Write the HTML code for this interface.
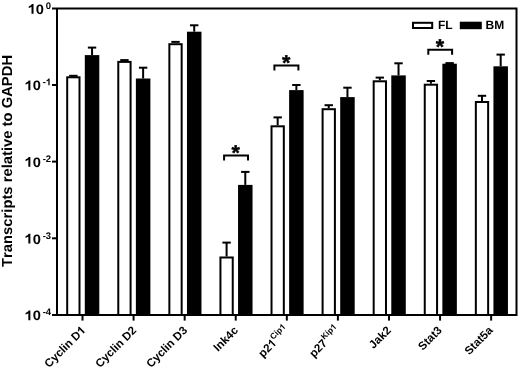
<!DOCTYPE html>
<html><head><meta charset="utf-8"><title>Transcripts relative to GAPDH</title><style>
html,body{margin:0;padding:0;background:#fff;}
svg{display:block;}
text{font-family:"Liberation Sans",sans-serif;font-weight:bold;fill:#000;text-rendering:geometricPrecision;white-space:pre;font-kerning:none;font-variant-ligatures:none;font-feature-settings:"kern" 0;}
.h{fill:transparent;stroke:none;}
svg{will-change:transform;}
</style></head><body>
<svg width="520" height="368" viewBox="0 0 520 368">
<rect width="520" height="368" fill="#fff"/>
<line x1="69.15" y1="75.8" x2="77.55" y2="75.8" stroke="#000" stroke-width="2"/>
<line x1="92.05" y1="55.1" x2="92.05" y2="47.6" stroke="#000" stroke-width="2"/>
<line x1="87.85" y1="47.6" x2="96.25" y2="47.6" stroke="#000" stroke-width="2"/>
<rect x="67.2" y="77.3" width="12.3" height="237.7" fill="#fff" stroke="#000" stroke-width="2"/>
<rect x="84.8" y="55.1" width="14.5" height="259.9" fill="#000"/>
<line x1="120.23" y1="60.1" x2="128.63" y2="60.1" stroke="#000" stroke-width="2"/>
<line x1="143.13" y1="78.5" x2="143.13" y2="67.7" stroke="#000" stroke-width="2"/>
<line x1="138.93" y1="67.7" x2="147.33" y2="67.7" stroke="#000" stroke-width="2"/>
<rect x="118.28" y="61.9" width="12.3" height="253.1" fill="#fff" stroke="#000" stroke-width="2"/>
<rect x="135.88" y="78.5" width="14.5" height="236.5" fill="#000"/>
<line x1="171.31" y1="41.9" x2="179.71" y2="41.9" stroke="#000" stroke-width="2"/>
<line x1="194.21" y1="31.7" x2="194.21" y2="25.3" stroke="#000" stroke-width="2"/>
<line x1="190.01" y1="25.3" x2="198.41" y2="25.3" stroke="#000" stroke-width="2"/>
<rect x="169.36" y="44.2" width="12.3" height="270.8" fill="#fff" stroke="#000" stroke-width="2"/>
<rect x="186.96" y="31.7" width="14.5" height="283.3" fill="#000"/>
<line x1="226.59" y1="256.5" x2="226.59" y2="242.6" stroke="#000" stroke-width="2"/>
<line x1="222.39" y1="242.6" x2="230.79" y2="242.6" stroke="#000" stroke-width="2"/>
<line x1="245.29" y1="184.9" x2="245.29" y2="171.9" stroke="#000" stroke-width="2"/>
<line x1="241.09" y1="171.9" x2="249.49" y2="171.9" stroke="#000" stroke-width="2"/>
<rect x="220.44" y="257.5" width="12.3" height="57.5" fill="#fff" stroke="#000" stroke-width="2"/>
<rect x="238.04" y="184.9" width="14.5" height="130.1" fill="#000"/>
<line x1="277.67" y1="125.3" x2="277.67" y2="117.4" stroke="#000" stroke-width="2"/>
<line x1="273.47" y1="117.4" x2="281.87" y2="117.4" stroke="#000" stroke-width="2"/>
<line x1="296.37" y1="90.1" x2="296.37" y2="85" stroke="#000" stroke-width="2"/>
<line x1="292.17" y1="85" x2="300.57" y2="85" stroke="#000" stroke-width="2"/>
<rect x="271.52" y="126.3" width="12.3" height="188.7" fill="#fff" stroke="#000" stroke-width="2"/>
<rect x="289.12" y="90.1" width="14.5" height="224.9" fill="#000"/>
<line x1="328.75" y1="108.2" x2="328.75" y2="105.2" stroke="#000" stroke-width="2"/>
<line x1="324.55" y1="105.2" x2="332.95" y2="105.2" stroke="#000" stroke-width="2"/>
<line x1="347.45" y1="97.1" x2="347.45" y2="87.7" stroke="#000" stroke-width="2"/>
<line x1="343.25" y1="87.7" x2="351.65" y2="87.7" stroke="#000" stroke-width="2"/>
<rect x="322.6" y="109.2" width="12.3" height="205.8" fill="#fff" stroke="#000" stroke-width="2"/>
<rect x="340.2" y="97.1" width="14.5" height="217.9" fill="#000"/>
<line x1="379.83" y1="80.3" x2="379.83" y2="77.6" stroke="#000" stroke-width="2"/>
<line x1="375.63" y1="77.6" x2="384.03" y2="77.6" stroke="#000" stroke-width="2"/>
<line x1="398.53" y1="75.4" x2="398.53" y2="63.3" stroke="#000" stroke-width="2"/>
<line x1="394.33" y1="63.3" x2="402.73" y2="63.3" stroke="#000" stroke-width="2"/>
<rect x="373.68" y="81.3" width="12.3" height="233.7" fill="#fff" stroke="#000" stroke-width="2"/>
<rect x="391.28" y="75.4" width="14.5" height="239.6" fill="#000"/>
<line x1="430.91" y1="83.7" x2="430.91" y2="81" stroke="#000" stroke-width="2"/>
<line x1="426.71" y1="81" x2="435.11" y2="81" stroke="#000" stroke-width="2"/>
<line x1="445.41" y1="63.1" x2="453.81" y2="63.1" stroke="#000" stroke-width="2"/>
<rect x="424.76" y="84.7" width="12.3" height="230.3" fill="#fff" stroke="#000" stroke-width="2"/>
<rect x="442.36" y="63.7" width="14.5" height="251.3" fill="#000"/>
<line x1="481.99" y1="101" x2="481.99" y2="95.8" stroke="#000" stroke-width="2"/>
<line x1="477.79" y1="95.8" x2="486.19" y2="95.8" stroke="#000" stroke-width="2"/>
<line x1="500.69" y1="66.3" x2="500.69" y2="54.6" stroke="#000" stroke-width="2"/>
<line x1="496.49" y1="54.6" x2="504.89" y2="54.6" stroke="#000" stroke-width="2"/>
<rect x="475.84" y="102" width="12.3" height="213" fill="#fff" stroke="#000" stroke-width="2"/>
<rect x="493.44" y="66.3" width="14.5" height="248.7" fill="#000"/>
<path d="M224.1 160.6 V155.4 H248 V160.6" fill="none" stroke="#000" stroke-width="2"/>
<text transform="translate(231.4 159.99)" x="0" y="0" stroke="#000" stroke-width="0.4"><tspan font-size="21.5">*</tspan></text>
<path d="M274.4 70.5 V65.6 H298.4 V70.5" fill="none" stroke="#000" stroke-width="2"/>
<text transform="translate(282.1 69.99)" x="0" y="0" stroke="#000" stroke-width="0.4"><tspan font-size="21.5">*</tspan></text>
<path d="M428.3 54.8 V49.8 H452.1 V54.8" fill="none" stroke="#000" stroke-width="2"/>
<text transform="translate(435.8 53.79)" x="0" y="0" stroke="#000" stroke-width="0.4"><tspan font-size="21.5">*</tspan></text>
<path d="M57 8.5 H516.5 V315 H52" fill="none" stroke="#000" stroke-width="2"/>
<line x1="57" y1="8.5" x2="57" y2="315" stroke="#000" stroke-width="2"/>
<line x1="52" y1="8.5" x2="57" y2="8.5" stroke="#000" stroke-width="2"/>
<text transform="translate(43.97 13.7) scale(1.08 1)" x="-15.13" y="0"><tspan font-size="13.6" class="h">1</tspan><tspan font-size="13.6">0</tspan></text><path transform="translate(43.97 13.7) scale(1.08 1)" d="M-9.66 0L-11.53 0L-11.53 -7.03Q-12.55 -6.08 -14.13 -5.62L-14.13 -7.31Q-13.33 -7.55 -12.42 -8.21Q-11.49 -8.89 -11.18 -9.74L-9.66 -9.74Z"/>
<text transform="translate(51.1 8.8)" x="-5.28" y="0"><tspan font-size="9.5">0</tspan></text>
<line x1="52" y1="85" x2="57" y2="85" stroke="#000" stroke-width="2"/>
<text transform="translate(40.8 90.2) scale(1.08 1)" x="-15.13" y="0"><tspan font-size="13.6" class="h">1</tspan><tspan font-size="13.6">0</tspan></text><path transform="translate(40.8 90.2) scale(1.08 1)" d="M-9.66 0L-11.53 0L-11.53 -7.03Q-12.55 -6.08 -14.13 -5.62L-14.13 -7.31Q-13.33 -7.55 -12.42 -8.21Q-11.49 -8.89 -11.18 -9.74L-9.66 -9.74Z"/>
<text transform="translate(51.1 85.3)" x="-8.45" y="0"><tspan font-size="9.5">-</tspan><tspan font-size="9.5" class="h">1</tspan></text><path transform="translate(51.1 85.3)" d="M-1.47 0L-2.77 0L-2.77 -4.91Q-3.48 -4.24 -4.59 -3.92L-4.59 -5.11Q-4.03 -5.27 -3.39 -5.74Q-2.75 -6.21 -2.52 -6.8L-1.47 -6.8Z"/>
<line x1="52" y1="161.6" x2="57" y2="161.6" stroke="#000" stroke-width="2"/>
<text transform="translate(40.8 166.8) scale(1.08 1)" x="-15.13" y="0"><tspan font-size="13.6" class="h">1</tspan><tspan font-size="13.6">0</tspan></text><path transform="translate(40.8 166.8) scale(1.08 1)" d="M-9.66 0L-11.53 0L-11.53 -7.03Q-12.55 -6.08 -14.13 -5.62L-14.13 -7.31Q-13.33 -7.55 -12.42 -8.21Q-11.49 -8.89 -11.18 -9.74L-9.66 -9.74Z"/>
<text transform="translate(51.1 161.9)" x="-8.45" y="0"><tspan font-size="9.5">-2</tspan></text>
<line x1="52" y1="238.3" x2="57" y2="238.3" stroke="#000" stroke-width="2"/>
<text transform="translate(40.8 243.5) scale(1.08 1)" x="-15.13" y="0"><tspan font-size="13.6" class="h">1</tspan><tspan font-size="13.6">0</tspan></text><path transform="translate(40.8 243.5) scale(1.08 1)" d="M-9.66 0L-11.53 0L-11.53 -7.03Q-12.55 -6.08 -14.13 -5.62L-14.13 -7.31Q-13.33 -7.55 -12.42 -8.21Q-11.49 -8.89 -11.18 -9.74L-9.66 -9.74Z"/>
<text transform="translate(51.1 238.6)" x="-8.45" y="0"><tspan font-size="9.5">-3</tspan></text>
<line x1="52" y1="315" x2="57" y2="315" stroke="#000" stroke-width="2"/>
<text transform="translate(40.8 320.2) scale(1.08 1)" x="-15.13" y="0"><tspan font-size="13.6" class="h">1</tspan><tspan font-size="13.6">0</tspan></text><path transform="translate(40.8 320.2) scale(1.08 1)" d="M-9.66 0L-11.53 0L-11.53 -7.03Q-12.55 -6.08 -14.13 -5.62L-14.13 -7.31Q-13.33 -7.55 -12.42 -8.21Q-11.49 -8.89 -11.18 -9.74L-9.66 -9.74Z"/>
<text transform="translate(51.1 315.3)" x="-8.45" y="0"><tspan font-size="9.5">-4</tspan></text>
<line x1="82.5" y1="315" x2="82.5" y2="320.6" stroke="#000" stroke-width="2"/>
<text transform="translate(86.1 331.1) rotate(-45)" x="-52.41" y="0"><tspan font-size="11.5">Cyclin D</tspan><tspan font-size="11.5" class="h">1</tspan></text><path transform="translate(86.1 331.1) rotate(-45)" d="M-1.77 0L-3.35 0L-3.35 -5.95Q-4.22 -5.14 -5.55 -4.75L-5.55 -6.18Q-4.88 -6.38 -4.1 -6.95Q-3.32 -7.51 -3.05 -8.23L-1.77 -8.23Z"/>
<line x1="133.58" y1="315" x2="133.58" y2="320.6" stroke="#000" stroke-width="2"/>
<text transform="translate(137.03 331.1) rotate(-45)" x="-52.41" y="0"><tspan font-size="11.5">Cyclin D2</tspan></text>
<line x1="184.66" y1="315" x2="184.66" y2="320.6" stroke="#000" stroke-width="2"/>
<text transform="translate(187.96 331.1) rotate(-45)" x="-52.41" y="0"><tspan font-size="11.5">Cyclin D3</tspan></text>
<line x1="235.74" y1="315" x2="235.74" y2="320.6" stroke="#000" stroke-width="2"/>
<text transform="translate(238.89 331.1) rotate(-45)" x="-29.41" y="0"><tspan font-size="11.5">Ink4c</tspan></text>
<line x1="286.82" y1="315" x2="286.82" y2="320.6" stroke="#000" stroke-width="2"/>
<text transform="translate(289.82 331.1) rotate(-45)" x="-38" y="0"><tspan font-size="11.5">p2</tspan><tspan font-size="11.5" class="h">1</tspan><tspan font-size="8.3" dx="0.2" dy="-5.3">Cip</tspan><tspan font-size="8.3" class="h">1</tspan></text><path transform="translate(289.82 331.1) rotate(-45)" d="M-19.96 0L-21.54 0L-21.54 -5.95Q-22.4 -5.14 -23.74 -4.75L-23.74 -6.18Q-23.07 -6.38 -22.29 -6.95Q-21.51 -7.51 -21.24 -8.23L-19.96 -8.23ZM-1.28 -5.3L-2.42 -5.3L-2.42 -9.59Q-3.04 -9.01 -4.01 -8.73L-4.01 -9.76Q-3.52 -9.91 -2.96 -10.31Q-2.4 -10.72 -2.2 -11.24L-1.28 -11.24Z"/>
<line x1="337.9" y1="315" x2="337.9" y2="320.6" stroke="#000" stroke-width="2"/>
<text transform="translate(340.75 331.1) rotate(-45)" x="-38" y="0"><tspan font-size="11.5">p27</tspan><tspan font-size="8.3" dx="0.2" dy="-5.3">Kip</tspan><tspan font-size="8.3" class="h">1</tspan></text><path transform="translate(340.75 331.1) rotate(-45)" d="M-1.28 -5.3L-2.42 -5.3L-2.42 -9.59Q-3.04 -9.01 -4.01 -8.73L-4.01 -9.76Q-3.52 -9.91 -2.96 -10.31Q-2.4 -10.72 -2.2 -11.24L-1.28 -11.24Z"/>
<line x1="388.98" y1="315" x2="388.98" y2="320.6" stroke="#000" stroke-width="2"/>
<text transform="translate(391.68 331.1) rotate(-45)" x="-25.58" y="0"><tspan font-size="11.5">Jak2</tspan></text>
<line x1="440.06" y1="315" x2="440.06" y2="320.6" stroke="#000" stroke-width="2"/>
<text transform="translate(442.61 331.1) rotate(-45)" x="-28.12" y="0"><tspan font-size="11.5">Stat3</tspan></text>
<line x1="491.14" y1="315" x2="491.14" y2="320.6" stroke="#000" stroke-width="2"/>
<text transform="translate(493.54 331.1) rotate(-45)" x="-34.52" y="0"><tspan font-size="11.5">Stat5a</tspan></text>
<rect x="413" y="22.8" width="19.2" height="5.2" fill="#fff" stroke="#000" stroke-width="2"/>
<rect x="459.8" y="21.7" width="22" height="7.5" fill="#000"/>
<text transform="translate(437.9 29.4)" x="0" y="0"><tspan font-size="12">FL</tspan></text>
<text transform="translate(485.6 29.4)" x="0" y="0"><tspan font-size="12">BM</tspan></text>
<text transform="translate(11.9 160.95) rotate(-90) scale(1.02 1)" x="-103.95" y="0"><tspan font-size="14.5">Transcripts relative to GAPDH</tspan></text>
</svg>
</body></html>
